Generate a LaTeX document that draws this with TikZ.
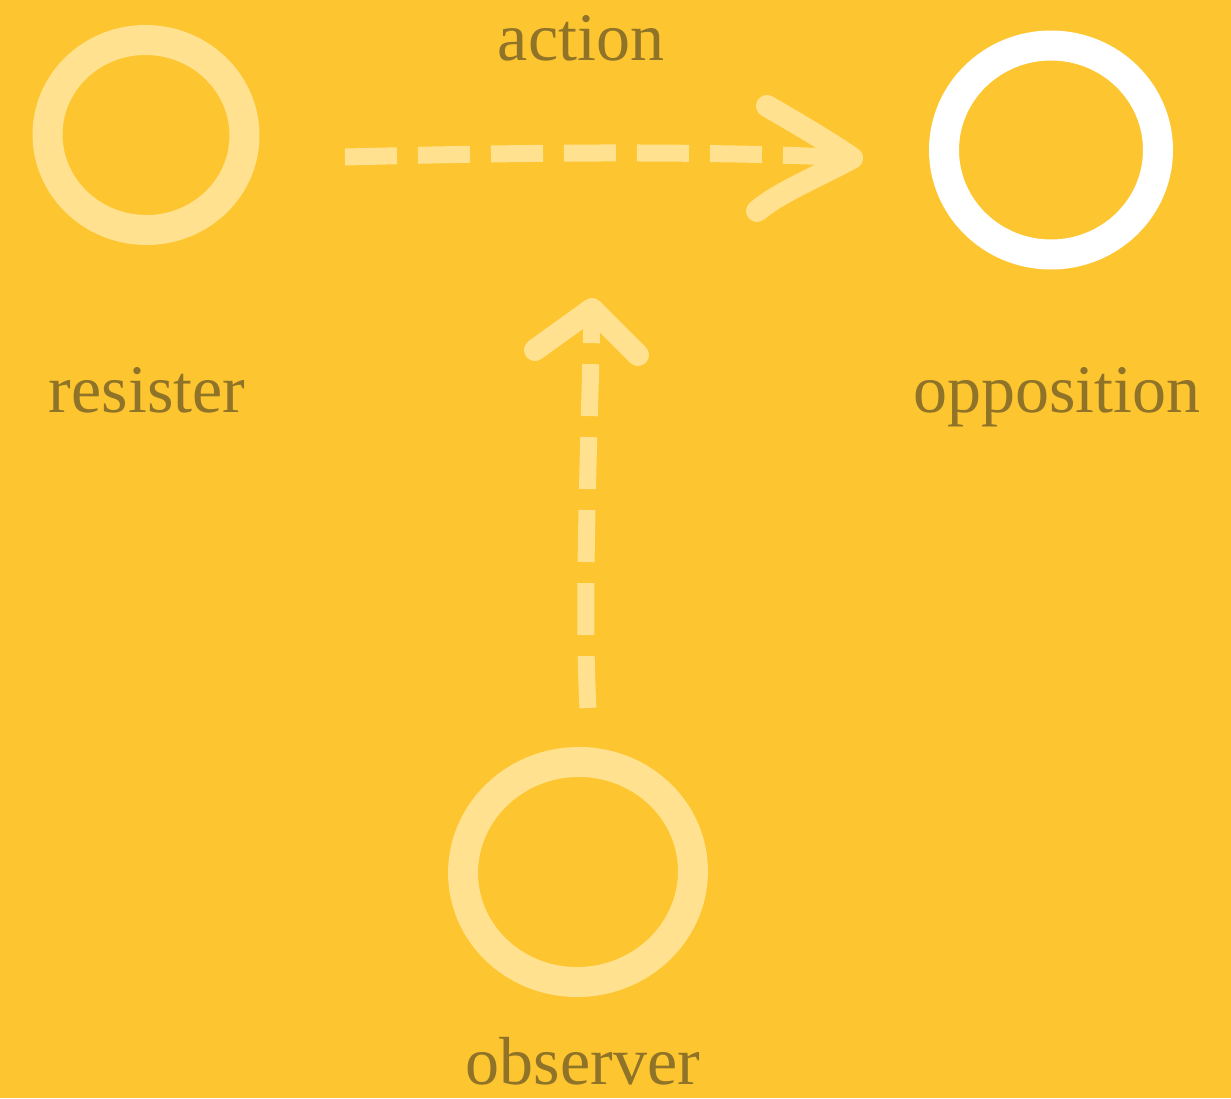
\documentclass[tikz,border=0pt]{standalone}
\usepackage{fontspec}
\setmainfont{Liberation Serif}
\usetikzlibrary{shapes.geometric,calc}
\definecolor{bg}{HTML}{FDC52F}
\definecolor{pale}{HTML}{FFE18F}
\definecolor{ink}{HTML}{8F7328}
\tikzset{
  ring/.style={ellipse, draw=pale, line width=30pt, inner sep=0pt},
  label/.style={text=ink, font=\fontsize{68}{78}\selectfont, inner sep=0pt, anchor=base},
  dashline/.style={draw=pale, line width=17pt, dash pattern=on 52pt off 21pt},
  headline/.style={draw=pale, line width=22pt, line cap=round, line join=round},
}
\begin{document}
\begin{tikzpicture}[x=1pt,y=-1pt]
\fill[bg] (0,0) rectangle (1231,1098);
\useasboundingbox (0,0) rectangle (1231,1098);
% circles
\node[ring, minimum width=197pt, minimum height=190pt, rotate=-4] (res) at (146,135) {};
\node[ring, draw=white, minimum width=214pt, minimum height=209pt] (opp) at (1051,150) {};
\node[ring, minimum width=230pt, minimum height=220pt, rotate=5] (obs) at (578,872) {};
% labels
\node[label] (lact) at (581,60) {action};
\node[label] (lres) at (147,412) {resister};
\node[label] (lopp) at (1057,412) {opposition};
\node[label] (lobs) at (583,1084) {observer};
% arrow action
\coordinate (a1) at (345,157);
\coordinate (a2) at (852,158);
\draw[dashline] (a1) .. controls (500,153) and (700,150) .. (a2);
\draw[headline] (767,106) .. controls (800,125) and (830,143) .. (a2) .. controls (815,178) and (780,192) .. (757,211);
% arrow observer
\coordinate (b1) at (588,708);
\coordinate (b2) at (592,309);
\draw[dashline] (b1) .. controls (582,600) and (590,420) .. (b2);
\draw[headline] (535,350) -- (b2) -- (638,355);
\end{tikzpicture}
\end{document}
